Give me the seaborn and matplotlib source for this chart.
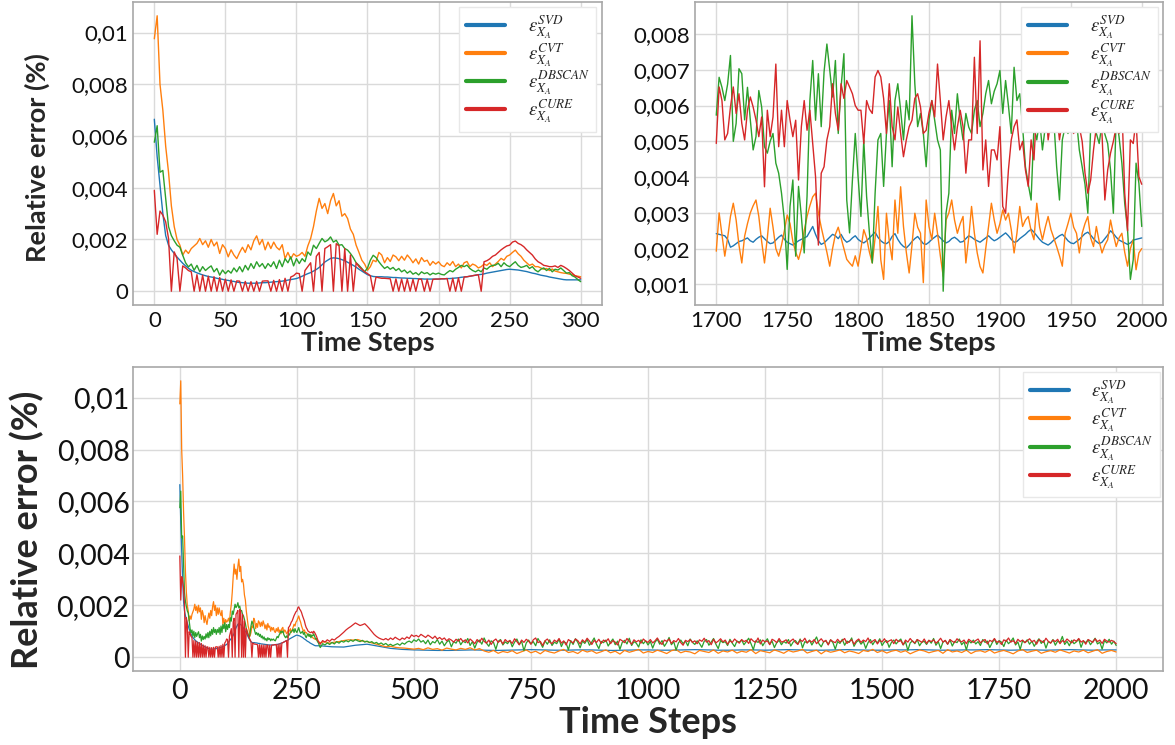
import numpy as np
import matplotlib
matplotlib.use("Agg")
import matplotlib.pyplot as plt
import seaborn as sns
from matplotlib.ticker import MultipleLocator, FuncFormatter

# ---------------------------------------------------------------
# Data (relative error values stored in units of 1e-5)
# ---------------------------------------------------------------
SCALE = 1e-5
series_names = ["SVD", "CVT", "DBSCAN", "CURE"]
series_labels = [r"$\varepsilon_{X_A}^{SVD}$", r"$\varepsilon_{X_A}^{CVT}$",
                 r"$\varepsilon_{X_A}^{DBSCAN}$", r"$\varepsilon_{X_A}^{CURE}$"]
series_colors = ["#1f77b4", "#ff7f0e", "#2ca02c", "#d62728"]

# --- early window, time steps 0..300 (every 2 steps) ---
early_start, early_step = 0, 2
svd_early = [665, 520, 409, 300, 215, 178, 160, 146, 132, 120,
             108, 98, 89, 81, 76, 71, 67, 63, 60, 57,
             55, 53, 50, 48, 46, 43, 42, 39, 38, 35,
             34, 33, 32, 31, 31, 31, 31, 32, 33, 33,
             34, 35, 36, 37, 38, 39, 41, 43, 45, 47,
             49, 53, 58, 63, 68, 72, 78, 84, 92, 102,
             113, 120, 127, 129, 128, 126, 122, 118, 112, 106,
             100, 93, 85, 78, 71, 64, 60, 57, 56, 56,
             56, 55, 55, 54, 53, 53, 52, 51, 51, 50,
             50, 49, 49, 48, 48, 47, 47, 47, 47, 47,
             47, 48, 48, 49, 49, 50, 51, 52, 54, 55,
             56, 58, 60, 62, 64, 65, 67, 70, 72, 74,
             76, 78, 80, 82, 84, 85, 84, 83, 82, 80,
             78, 76, 73, 70, 68, 65, 62, 60, 58, 55,
             53, 51, 49, 47, 45, 44, 44, 44, 44, 44,
             44]
cvt_early = [976, 1065, 800, 700, 560, 460, 330, 250, 200, 178,
             140, 159, 146, 165, 175, 185, 204, 180, 195, 170,
             200, 175, 190, 146, 180, 165, 133, 160, 140, 126,
             150, 170, 150, 180, 160, 195, 214, 180, 200, 160,
             190, 165, 190, 170, 160, 180, 126, 150, 125, 145,
             135, 140, 150, 135, 175, 204, 250, 310, 359, 320,
             339, 300, 350, 378, 330, 350, 290, 300, 281, 240,
             220, 178, 150, 120, 105, 81, 95, 120, 114, 150,
             140, 110, 130, 115, 140, 133, 118, 135, 120, 140,
             127, 110, 125, 105, 130, 115, 120, 100, 115, 105,
             114, 100, 95, 110, 100, 115, 95, 105, 90, 110,
             115, 95, 105, 100, 90, 95, 105, 100, 110, 95,
             105, 115, 127, 120, 135, 140, 150, 159, 145, 135,
             120, 110, 100, 105, 95, 95, 90, 85, 88, 80,
             86, 78, 75, 72, 70, 69, 66, 64, 60, 58,
             56]
dbscan_early = [576, 640, 460, 467, 358, 250, 215, 195, 178, 170,
                139, 110, 94, 105, 81, 100, 75, 95, 80, 90,
                98, 75, 88, 62, 82, 68, 80, 70, 90, 75,
                95, 75, 100, 82, 107, 88, 114, 95, 107, 88,
                107, 95, 114, 88, 120, 95, 126, 110, 133, 98,
                126, 107, 126, 114, 152, 139, 178, 165, 185, 204,
                191, 197, 210, 190, 197, 178, 180, 165, 159, 146,
                130, 110, 100, 88, 75, 90, 120, 139, 130, 114,
                100, 88, 95, 85, 92, 80, 88, 75, 82, 70,
                78, 66, 72, 63, 75, 68, 72, 63, 70, 66,
                70, 65, 63, 72, 80, 75, 85, 92, 100, 95,
                101, 88, 80, 75, 82, 75, 90, 85, 95, 100,
                101, 108, 95, 110, 100, 95, 105, 114, 100, 92,
                95, 100, 88, 95, 82, 75, 85, 90, 80, 88,
                75, 85, 82, 90, 80, 70, 72, 60, 55, 45,
                37]
cure_early = [390, 220, 310, 294, 268, 204, 0, 152, 126, 0,
              98, 90, 80, 75, 0, 64, 0, 62, 0, 58,
              0, 56, 0, 53, 0, 47, 0, 44, 0, 40,
              39, 0, 38, 0, 37, 0, 38, 0, 39, 40,
              40, 0, 42, 0, 45, 0, 50, 0, 55, 60,
              70, 68, 0, 80, 95, 110, 0, 135, 150, 0,
              165, 172, 180, 0, 184, 175, 0, 165, 0, 140,
              0, 110, 95, 85, 75, 68, 60, 0, 55, 52,
              50, 50, 49, 48, 0, 48, 0, 47, 0, 47,
              0, 46, 0, 47, 46, 0, 46, 0, 46, 47,
              47, 48, 48, 49, 0, 50, 0, 52, 0, 55,
              56, 58, 60, 62, 64, 0, 114, 118, 125, 135,
              140, 150, 160, 168, 175, 178, 190, 194, 185, 180,
              172, 160, 150, 140, 125, 114, 108, 100, 98, 95,
              95, 98, 92, 100, 95, 88, 80, 70, 60, 55,
              50]

# --- late window, time steps 1700..2000 (every 2 steps) ---
late_start, late_step = 1700, 2
svd_late = [242, 240, 238, 236, 226, 204, 208, 214, 220, 222, 226, 230, 222, 218, 226, 232, 236, 228, 220, 214,
            216, 224, 232, 238, 226, 218, 214, 210, 216, 222, 226, 230, 234, 248, 262, 240, 222, 212, 216, 224,
            232, 240, 236, 228, 240, 226, 218, 222, 230, 236, 226, 220, 216, 222, 230, 238, 246, 232, 222, 216,
            214, 220, 234, 242, 226, 214, 206, 202, 210, 220, 228, 234, 224, 214, 212, 218, 226, 232, 238, 230,
            222, 216, 220, 228, 232, 226, 218, 220, 228, 236, 232, 226, 222, 218, 224, 230, 236, 228, 222, 226,
            232, 238, 244, 236, 226, 218, 220, 228, 234, 240, 248, 254, 246, 236, 226, 218, 214, 210, 216, 224,
            230, 236, 240, 232, 222, 216, 214, 220, 226, 234, 242, 246, 238, 228, 220, 214, 218, 228, 238, 250,
            242, 232, 224, 220, 216, 212, 216, 224, 226, 228, 230]
cvt_late = [193, 300, 240, 179, 230, 290, 327, 280, 210, 160, 235, 270, 300, 320, 336, 290, 220, 160, 230, 313,
            260, 200, 179, 210, 250, 294, 270, 220, 190, 170, 200, 250, 290, 320, 345, 355, 300, 260, 225, 190,
            151, 200, 240, 260, 230, 200, 170, 160, 151, 180, 151, 200, 253, 230, 190, 160, 230, 318, 169, 114,
            299, 220, 169, 336, 243, 373, 262, 190, 132, 210, 299, 260, 243, 105, 336, 262, 225, 299, 243, 180,
            123, 280, 300, 336, 280, 243, 270, 290, 160, 230, 318, 243, 188, 150, 132, 200, 262, 327, 280, 243,
            270, 308, 280, 299, 253, 188, 243, 318, 262, 280, 290, 250, 225, 327, 260, 225, 260, 290, 253, 230,
            206, 180, 151, 243, 270, 299, 260, 243, 188, 243, 270, 290, 230, 206, 262, 220, 188, 210, 225, 280,
            240, 206, 230, 243, 190, 151, 200, 225, 141, 188, 200]
dbscan_late = [573, 679, 651, 614, 660, 740, 500, 550, 703, 689, 560, 651, 560, 476, 513, 642, 596, 485, 467, 500,
               522, 439, 411, 355, 281, 142, 318, 392, 179, 374, 290, 188, 346, 614, 726, 559, 689, 541, 694, 772,
               700, 624, 726, 522, 651, 745, 336, 244, 392, 522, 400, 290, 504, 346, 244, 160, 355, 504, 522, 374,
               522, 614, 429, 614, 661, 587, 504, 614, 560, 851, 661, 541, 578, 522, 429, 560, 614, 559, 504, 476,
               81, 299, 355, 587, 522, 633, 559, 504, 578, 540, 522, 587, 614, 541, 578, 633, 670, 605, 640, 661,
               698, 578, 670, 600, 522, 707, 614, 633, 541, 429, 380, 336, 541, 504, 559, 476, 541, 522, 587, 560,
               429, 336, 504, 541, 522, 559, 541, 559, 476, 429, 380, 299, 541, 568, 522, 494, 550, 520, 494, 420,
               299, 568, 513, 439, 327, 253, 114, 169, 439, 383, 262]
cure_late = [494, 652, 614, 504, 522, 596, 652, 578, 633, 550, 504, 587, 624, 596, 560, 513, 568, 373, 587, 513,
             568, 716, 485, 587, 485, 614, 560, 513, 559, 392, 541, 614, 531, 587, 494, 401, 210, 411, 429, 504,
             541, 661, 578, 531, 661, 620, 670, 652, 633, 600, 587, 587, 494, 614, 590, 578, 680, 698, 680, 620,
             522, 661, 541, 504, 596, 522, 457, 504, 541, 559, 620, 633, 596, 522, 531, 580, 614, 568, 716, 614,
             504, 568, 614, 541, 476, 540, 587, 541, 411, 504, 504, 735, 522, 781, 420, 504, 374, 476, 476, 448,
             541, 318, 299, 420, 504, 541, 560, 476, 500, 420, 374, 504, 448, 600, 560, 541, 620, 504, 560, 541,
             580, 504, 560, 620, 600, 540, 522, 560, 541, 500, 411, 355, 392, 476, 541, 600, 520, 336, 420, 467,
             500, 541, 522, 600, 355, 250, 504, 494, 560, 401, 380]

# --- remainder of the full run after step 300 (bottom panel) ---
svd_mid_start, svd_mid_step = 325, 25
svd_mid = [40, 39, 46, 50, 42, 34, 30, 28, 27, 26,
           26, 27, 28, 27, 26, 27, 28, 29, 28, 27,
           27, 28, 28, 27, 26, 27, 28, 28, 27, 27,
           28, 29, 28, 27, 27, 28, 28, 27, 28, 29,
           28, 27, 27, 28, 29, 28, 27, 27, 28, 28,
           29, 28, 27, 27, 28, 28, 29, 28, 27, 28,
           28, 27, 28, 29, 28, 27, 28, 28]
cvt_mid_start, cvt_mid_step = 310, 10
cvt_mid = [60, 54, 58, 60, 64, 67, 66, 68, 62, 60,
           55, 50, 45, 40, 42, 38, 36, 35, 33, 31,
           34, 29, 36, 30, 33, 27, 35, 31, 28, 34,
           30, 36, 28, 33, 24, 19, 26, 15, 22, 18,
           25, 14, 21, 28, 17, 23, 13, 26, 20, 16,
           24, 30, 18, 22, 14, 27, 20, 25, 15, 21,
           28, 17, 23, 12, 26, 19, 24, 30, 16, 22,
           18, 27, 21, 14, 25, 29, 17, 23, 20, 13,
           26, 22, 18, 28, 15, 24, 20, 27, 16, 23,
           19, 29, 14, 25, 21, 17, 28, 22, 15, 26,
           20, 24, 30, 16, 22, 27, 13, 25, 19, 23,
           28, 17, 24, 20, 14, 26, 22, 30, 18, 25,
           16, 23, 27, 19, 25, 13, 21, 28, 24, 17,
           22, 26, 15, 29, 20, 24, 18, 27, 14, 23,
           25, 19, 28, 16, 22, 26, 20, 13, 24, 29,
           18, 23, 27, 15, 21, 25, 19, 28, 22, 16,
           24, 20, 27, 17, 23, 29, 15, 22, 26, 20]
noisy_mid_start, noisy_mid_step = 305, 5
dbscan_mid = [52, 47, 55, 49, 57, 51, 60, 54, 62, 58, 64, 59, 66, 61, 68, 63, 60, 65, 58, 62,
              56, 60, 53, 57, 50, 55, 48, 53, 45, 50, 44, 48, 52, 46, 55, 50, 58, 62, 56, 67,
              61, 70, 58, 64, 52, 66, 48, 60, 55, 68, 50, 62, 44, 58, 65, 40, 60, 54, 70, 48,
              62, 56, 72, 45, 60, 35, 58, 66, 50, 74, 54, 42, 63, 57, 30, 61, 68, 47, 59, 52,
              65, 40, 58, 70, 48, 62, 25, 55, 66, 51, 60, 44, 72, 56, 38, 63, 50, 67, 45, 58,
              52, 69, 41, 60, 55, 28, 64, 49, 71, 57, 36, 62, 53, 68, 46, 59, 74, 50, 33, 61,
              56, 66, 43, 58, 70, 48, 62, 30, 57, 65, 51, 73, 45, 60, 54, 39, 67, 52, 63, 47,
              61, 35, 58, 69, 50, 64, 42, 56, 76, 48, 60, 27, 55, 66, 52, 62, 44, 70, 57, 49,
              63, 53, 38, 61, 68, 46, 58, 72, 50, 33, 64, 56, 60, 45, 69, 54, 41, 62, 58, 66,
              48, 60, 73, 52, 29, 63, 57, 67, 44, 59, 71, 50, 62, 37, 56, 65, 48, 61, 54, 68,
              43, 58, 64, 51, 70, 36, 60, 55, 66, 47, 62, 78, 52, 40, 59, 63, 49, 67, 56, 31,
              60, 53, 69, 46, 62, 57, 74, 42, 58, 65, 50, 61, 34, 56, 68, 48, 63, 55, 71, 45,
              59, 64, 38, 57, 66, 51, 62, 70, 47, 60, 26, 55, 63, 52, 68, 44, 58, 61, 49, 65,
              54, 72, 46, 60, 33, 58, 64, 50, 67, 43, 61, 56, 70, 48, 59, 28, 63, 55, 66, 51,
              60, 45, 68, 57, 62, 37, 55, 70, 49, 64, 58, 41, 66, 52, 61, 74, 47, 59, 30, 63,
              56, 67, 50, 62, 42, 58, 71, 53, 64, 35, 60, 55, 68, 46, 62, 57, 80, 49, 61, 44,
              65, 52, 59, 70, 38, 62, 56, 67, 48, 60, 73, 51, 58, 31, 64, 55, 69, 50, 62, 45]
cure_mid = [64, 58, 67, 61, 70, 66, 74, 80, 88, 96, 105, 112, 118, 125, 132, 127, 122, 125, 129, 120,
            110, 99, 88, 80, 74, 70, 67, 72, 66, 74, 68, 77, 71, 66, 74, 69, 78, 72, 86, 80,
            84, 78, 88, 82, 76, 85, 79, 72, 81, 70, 76, 68, 74, 63, 71, 66, 58, 69, 62, 72,
            60, 67, 55, 70, 62, 52, 68, 58, 73, 61, 54, 66, 49, 63, 70, 57, 65, 51, 68, 59,
            64, 53, 71, 60, 48, 66, 57, 69, 62, 50, 67, 74, 56, 61, 45, 63, 70, 58, 52, 66,
            59, 72, 54, 63, 47, 68, 61, 55, 70, 64, 51, 67, 58, 73, 62, 49, 65, 57, 69, 53,
            66, 60, 71, 52, 64, 58, 47, 69, 63, 56, 72, 61, 50, 67, 59, 65, 54, 70, 62, 57,
            68, 55, 63, 74, 58, 49, 66, 61, 70, 53, 64, 59, 72, 56, 46, 65, 60, 68, 57, 63,
            52, 67, 61, 73, 58, 64, 48, 69, 55, 62, 71, 59, 66, 50, 63, 57, 70, 61, 54, 68,
            60, 65, 53, 71, 62, 57, 74, 51, 66, 59, 63, 48, 69, 64, 56, 72, 58, 61, 67, 53,
            63, 70, 57, 49, 66, 61, 73, 55, 64, 58, 68, 52, 62, 71, 59, 65, 47, 67, 60, 56,
            69, 58, 64, 72, 53, 61, 67, 50, 63, 70, 57, 66, 60, 74, 55, 62, 68, 51, 65, 59,
            71, 56, 63, 67, 52, 69, 60, 64, 48, 66, 58, 72, 61, 55, 68, 63, 57, 70, 53, 65,
            60, 67, 54, 62, 73, 58, 65, 50, 68, 61, 56, 71, 63, 59, 66, 52, 69, 62, 57, 64,
            70, 55, 63, 68, 51, 65, 60, 72, 57, 62, 49, 67, 61, 74, 58, 64, 53, 69, 60, 66,
            56, 63, 71, 59, 65, 50, 68, 62, 57, 73, 61, 54, 66, 60, 69, 52, 64, 58, 70, 62,
            55, 67, 61, 72, 58, 64, 50, 68, 63, 57, 71, 60, 66, 53, 69, 62, 58, 65, 60, 52]

for arr in (svd_early, cvt_early, dbscan_early, cure_early):
    assert len(arr) == 151, len(arr)
for arr in (svd_late, cvt_late, dbscan_late, cure_late):
    assert len(arr) == 151, len(arr)
assert len(svd_mid) == 68 and len(cvt_mid) == 170
assert len(dbscan_mid) == 340 and len(cure_mid) == 340


def to_xy(start, step, values):
    v = np.asarray(values, dtype=float) * SCALE
    t = start + step * np.arange(len(v))
    return t, v


early = {n: to_xy(early_start, early_step, a)
         for n, a in zip(series_names, [svd_early, cvt_early, dbscan_early, cure_early])}
late = {n: to_xy(late_start, late_step, a)
        for n, a in zip(series_names, [svd_late, cvt_late, dbscan_late, cure_late])}
mids = {"SVD": to_xy(svd_mid_start, svd_mid_step, svd_mid),
        "CVT": to_xy(cvt_mid_start, cvt_mid_step, cvt_mid),
        "DBSCAN": to_xy(noisy_mid_start, noisy_mid_step, dbscan_mid),
        "CURE": to_xy(noisy_mid_start, noisy_mid_step, cure_mid)}
full = {n: (np.concatenate([early[n][0], mids[n][0]]),
            np.concatenate([early[n][1], mids[n][1]])) for n in series_names}

# ---------------------------------------------------------------
# Style
# ---------------------------------------------------------------
sns.set_theme(style="whitegrid")
plt.rcParams["font.family"] = ["Lato", "DejaVu Sans"]
plt.rcParams["mathtext.fontset"] = "stix"

W, H = 1175, 745
fig = plt.figure(figsize=(W / 100, H / 100), dpi=100)


def px_axes(x0, x1, y0, y1):
    return fig.add_axes([x0 / W, 1 - y1 / H, (x1 - x0) / W, (y1 - y0) / H])


ax_tl = px_axes(133, 602, 2, 305)
ax_tr = px_axes(695, 1163, 2, 305)
ax_b = px_axes(133, 1163, 367, 671)


def comma_fmt(v, pos):
    if abs(v) < 1e-12:
        return "0"
    s = f"{v:.3f}".rstrip("0").rstrip(".")
    return s.replace(".", ",")


def draw(ax, data, lw):
    for name, label, color in zip(series_names, series_labels, series_colors):
        t, v = data[name]
        sns.lineplot(x=t, y=v, ax=ax, color=color, lw=lw, label=label,
                     estimator=None, sort=False)


def style(ax, ystep, xstep, tick_size, xpad, ypad):
    ax.grid(True, color="#dadada", lw=1.0)
    for s in ax.spines.values():
        s.set_color("#a8a8a8")
        s.set_linewidth(1.2)
    ax.yaxis.set_major_locator(MultipleLocator(ystep))
    ax.yaxis.set_major_formatter(FuncFormatter(comma_fmt))
    ax.xaxis.set_major_locator(MultipleLocator(xstep))
    ax.xaxis.set_major_formatter(FuncFormatter(lambda v, p: f"{v:.0f}"))
    ax.tick_params(axis="both", length=0, labelsize=tick_size, labelcolor="#111111")
    ax.tick_params(axis="x", pad=xpad)
    ax.tick_params(axis="y", pad=ypad)


def legend(ax, anchor):
    leg = ax.legend(loc="upper right", bbox_to_anchor=anchor, borderaxespad=0,
                    fontsize=13.5, handlelength=2.1, handletextpad=1.2,
                    labelspacing=0.02, borderpad=0.35, frameon=True,
                    framealpha=1, edgecolor="#e8e8e8", fancybox=False)
    for line in leg.get_lines():
        line.set_linewidth(3)


draw(ax_tl, early, 1.0)
draw(ax_tr, late, 1.0)
draw(ax_b, full, 0.9)

style(ax_tl, 0.002, 50, 16, 4, 3.5)
style(ax_tr, 0.001, 50, 16, 4, 3.5)
style(ax_b, 0.002, 250, 20.5, 5, 2.5)

legend(ax_tl, (0.988, 0.985))
legend(ax_tr, (0.99, 0.983))
legend(ax_b, (0.997, 0.984))

for ax in (ax_tl, ax_tr):
    ax.set_xlabel("Time Steps", fontsize=19.5, fontweight="bold", va="center")
    ax.xaxis.set_label_coords(0.5, -0.124)
ax_tl.set_ylabel("Relative error (%)", fontsize=19.5, fontweight="bold", va="center")
ax_tl.yaxis.set_label_coords(-0.204, 0.485)
ax_tr.set_ylabel("")

ax_b.set_xlabel("Time Steps", fontsize=26, fontweight="bold", va="center")
ax_b.xaxis.set_label_coords(0.5, -0.168)
ax_b.set_ylabel("Relative error (%)", fontsize=26, fontweight="bold", va="center")
ax_b.yaxis.set_label_coords(-0.1024, 0.464)

fig.savefig("out.png", dpi=100)
